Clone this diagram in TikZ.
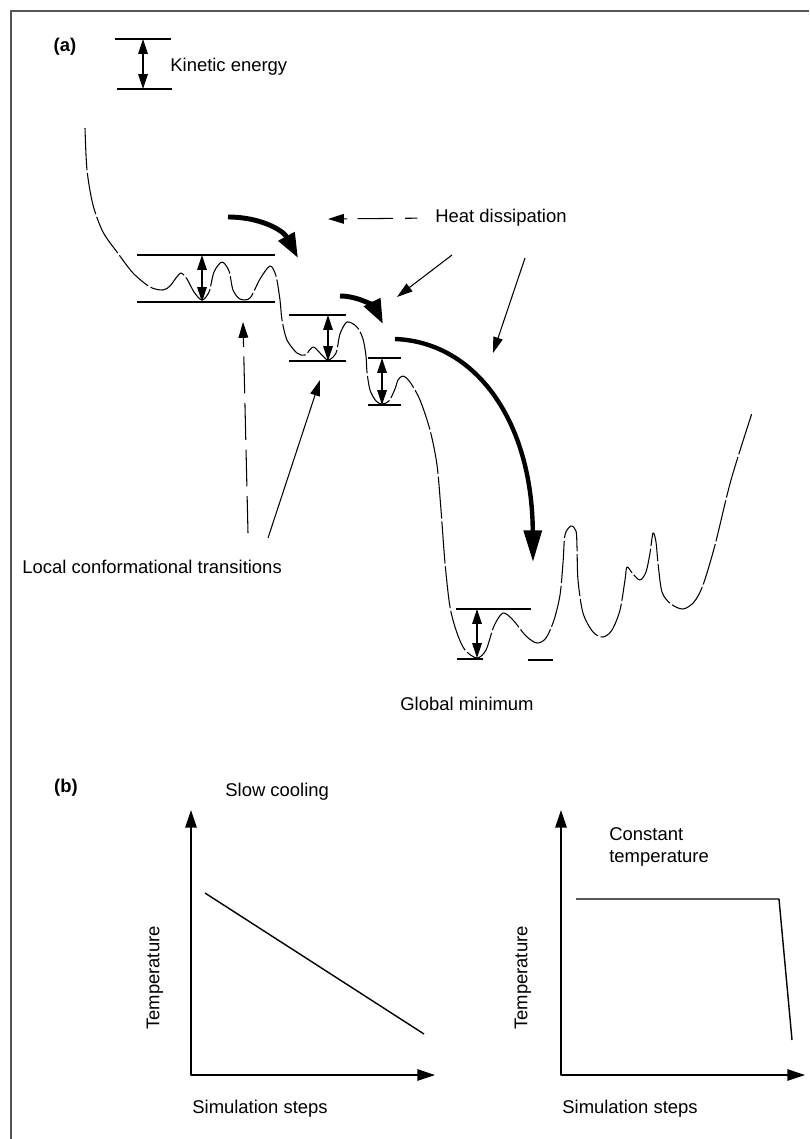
\documentclass[tikz,border=0pt]{standalone}
\usepackage{fontspec}
\setmainfont{Liberation Sans}
\usetikzlibrary{arrows.meta}
\definecolor{framegray}{HTML}{555555}
\tikzset{
  every picture/.style={line join=round, >=Triangle},
  lbl/.style={inner sep=0pt, anchor=west, font=\fontsize{10.5}{13}\selectfont},
  panel/.style={inner sep=0pt, font=\bfseries\fontsize{10.5}{13}\selectfont},
  frame/.style={draw=framegray, line width=1.1pt},
  level/.style={line width=0.7pt},
  landscape/.style={line width=0.6pt, dash pattern=on 24pt off 1.6pt},
  gap/.style={line width=0.6pt, {Triangle[length=8.5pt,width=5.5pt]}-{Triangle[length=8.5pt,width=5.5pt]}},
  pointer/.style={line width=0.6pt, -{Triangle[length=9pt,width=5.5pt]}},
  flow/.style={line width=2.8pt, -{Triangle[length=14pt,width=10pt]}},
  axis/.style={line width=0.7pt, {Triangle[length=10pt,width=6.5pt]}-{Triangle[length=10pt,width=6.5pt]}},
  trace/.style={line width=0.8pt},
}

\begin{document}
\begin{tikzpicture}[x=0.02cm, y=-0.02cm]
\useasboundingbox (0,0) rectangle (809,1139);
\draw[frame] (809,11) -- (11,11) -- (11,1139);

% (a) energy landscape
\node[panel] (pa) at (65,47) {(a)};
\draw[level] (115,39) -- (171,39);
\draw[level] (117,89) -- (172,89);
\draw[gap] (143,39) -- (143,89);
\node[lbl] (kin) at (170,67) {Kinetic energy};

\draw[landscape] plot[smooth, tension=0.5] coordinates {
  (85,128) (87,170) (93,205) (103,232) (117,252) (133,273) (150,287) (163,290)
  (170,286) (176,278) (181,273) (187,279) (194,292) (202,300) (209,292) (214,272)
  (222,262) (229,271) (233,290) (240,299) (250,298) (260,279) (270,266) (276,276)
  (280,300) (282,320) (287,340) (297,353) (305,355) (313,347) (320,353) (328,360)
  (336,353) (340,334) (347,322) (357,327) (363,339) (366,356) (367,372) (370,390)
  (376,401) (382,404) (389,401) (395,389) (398,380) (403,376) (410,382) (420,400)
  (430,430) (437,465) (441,510) (445,563) (450,607) (457,633) (465,650) (477,658)
  (486,650) (494,626) (503,613) (513,620) (526,636) (537,643) (546,638) (554,620)
  (560,595) (563,563) (565,535) (571,526) (576,531) (577,547) (578,580) (583,613)
  (593,632) (603,637) (612,630) (620,610) (625,580) (627,567) (633,574) (640,580)
  (646,572) (650,553) (653,533) (656,542) (658,563) (662,592) (671,604) (683,609)
  (694,602) (703,585) (715,545) (731,480) (752,413)};

% energy levels: left, right, top, bottom, arrow
\foreach \xa/\xb/\ya/\yb/\xm in {137/275/255/302/202, 289/346/315/361/328, 368/401/358/405/382}{
  \draw[level] (\xa,\ya) -- (\xb,\ya);
  \draw[level] (\xa,\yb) -- (\xb,\yb);
  \draw[gap] (\xm,\ya) -- (\xm,\yb);
}
\draw[level] (456,609) -- (531,609);
\draw[level] (457,659) -- (483,659);
\draw[level] (528,660) -- (553,660);
\draw[gap] (477,609) -- (477,658);

% heat flow
\draw[flow] (228,217) .. controls (260,217) and (283,230) .. (298,258);
\draw[flow] (340,296) .. controls (360,296) and (375,308) .. (383,324);
\draw[flow, line width=2.5pt, -{Triangle[length=18pt,width=10pt]}]
  (395,339) .. controls (475,342) and (532,420) .. (533,562);

\node[lbl] (heat) at (435,218) {Heat dissipation};
\coordinate (hd1) at (328,219);
\coordinate (hd2s) at (452,255);
\coordinate (hd2) at (397,297);
\coordinate (hd3s) at (525,258);
\coordinate (hd3) at (493,353);
\draw[pointer, shorten <=10pt, dash pattern=on 7pt off 7pt on 20pt off 6pt] (heat.west) -- (hd1);
\draw[pointer] (hd2s) -- (hd2);
\draw[pointer] (hd3s) -- (hd3);

\node[lbl] (local) at (22,567) {Local conformational transitions};
\coordinate (lc1s) at (248,533);
\coordinate (lc1) at (243,322);
\coordinate (lc2s) at (268,538);
\coordinate (lc2) at (320,380);
\draw[pointer, dash pattern=on 21pt off 5.5pt] (lc1s) -- (lc1);
\draw[pointer] (lc2s) -- (lc2);

\node[lbl] (glob) at (400,704) {Global minimum};

% (b) temperature schedules
\node[panel] (pb) at (66,788) {(b)};
\node[lbl] (slow) at (225,792) {Slow cooling};
\draw[axis] (191,810) -- (191,1075) -- (435,1075);
\draw[trace] (205,893) -- (424,1034);
\node[lbl, rotate=90, anchor=center] (tempa) at (155,978) {Temperature};
\node[lbl] (stepsa) at (192,1109) {Simulation steps};

\draw[axis] (561,810) -- (561,1075) -- (805,1075);
\draw[trace] (576,899) -- (779,899) -- (792,1040);
\node[lbl, align=left] (const) at (609,847) {Constant\\temperature};
\node[lbl, rotate=90, anchor=center] (tempb) at (523,978) {Temperature};
\node[lbl] (stepsb) at (562,1109) {Simulation steps};
\end{tikzpicture}
\end{document}
